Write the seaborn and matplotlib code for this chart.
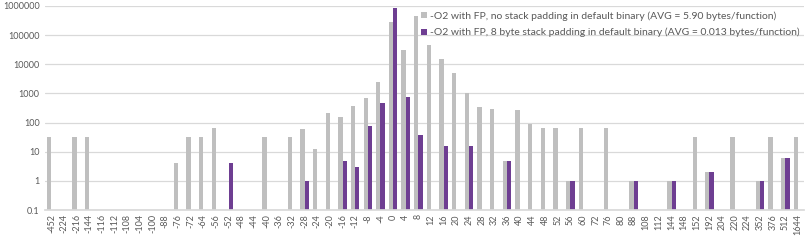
import pandas as pd
import numpy as np
import matplotlib
matplotlib.use('Agg')
import matplotlib.pyplot as plt
import seaborn as sns
from matplotlib.ticker import FixedLocator, FuncFormatter

# kategori offset padding (byte)
offsets = [-452, -224, -216, -144, -116, -112, -108, -104, -100, -88, -76, -72, -64, -56, -52,
           -48, -44, -40, -36, -32, -28, -24, -20, -16, -12, -8, -4, 0, 4, 8, 12, 16, 20, 24,
           28, 32, 36, 40, 44, 48, 52, 56, 60, 72, 76, 80, 88, 108, 112, 144, 148, 152, 192,
           204, 220, 224, 352, 376, 512, 1644]

nan = np.nan
no_padding = [32, nan, 32, 32, nan, nan, nan, nan, nan, nan, 4, 32, 32, 64, nan,
              nan, nan, 32, nan, 32, 62, 12, 210, 150, 360, 680, 2500, 276000, 32000, 466000, 46000, 15600, 4900, 1000,
              330, 295, 5, 277, 92, 64, 64, 1, 64, nan, 64, nan, 1, nan, nan, 1, nan, 32, 2,
              nan, 32, nan, 1, 32, 6, 32]
pad8 = [nan, nan, nan, nan, nan, nan, nan, nan, nan, nan, nan, nan, nan, nan, 4,
        nan, nan, nan, nan, nan, 1, nan, nan, 5, 3, 75, 460, 835000, 740, 38, nan, 16, nan, 16,
        nan, nan, 5, nan, nan, nan, nan, 1, nan, nan, nan, nan, 1, nan, nan, 1, nan, nan, 2,
        nan, nan, nan, 1, nan, 6, nan]

label_a = '-O2 with FP, no stack padding in default binary (AVG = 5.90 bytes/function)'
label_b = '-O2 with FP, 8 byte stack padding in default binary (AVG = 0.013 bytes/function)'

labels = [str(o) for o in offsets]
df = pd.concat([
    pd.DataFrame({'offset': labels, 'count': no_padding, 'series': label_a}),
    pd.DataFrame({'offset': labels, 'count': pad8, 'series': label_b}),
], ignore_index=True).dropna()

sns.set_theme(style='white')
plt.rcParams['font.family'] = ['Lato', 'DejaVu Sans']

fig = plt.figure(figsize=(8.06, 2.46), dpi=100)
ax = fig.add_axes([0.056, 0.146, 0.942, 0.83])
ax.set_yscale('log', nonpositive='clip')

sns.barplot(data=df, x='offset', y='count', hue='series', order=labels,
            hue_order=[label_a, label_b], palette=['#BFBFBF', '#7030A0'],
            width=0.68, ax=ax, errorbar=None, linewidth=0)

ax.set_ylim(0.1, 1e6)
ax.set_xlim(-0.5, len(labels) - 0.5)
ticks = [0.1, 1, 10, 100, 1000, 10000, 100000, 1000000]
ax.yaxis.set_major_locator(FixedLocator(ticks))
ax.yaxis.set_minor_locator(FixedLocator([]))
ax.yaxis.set_major_formatter(FuncFormatter(lambda v, p: '0.1' if v < 1 else str(int(round(v)))))
ax.grid(axis='y', color='#D9D9D9', linewidth=0.9)
ax.set_axisbelow(True)
for s in ['top', 'right', 'left']:
    ax.spines[s].set_visible(False)
ax.spines['bottom'].set_color('#D9D9D9')
ax.tick_params(axis='both', length=0, colors='#595959', labelsize=6.5)
ax.tick_params(axis='x', rotation=90, pad=3)
ax.tick_params(axis='y', pad=4)
ax.set_xlabel('')
ax.set_ylabel('')

ax.legend(loc='upper left', bbox_to_anchor=(0.495, 0.975), frameon=False, fontsize=7.5,
          labelcolor='#595959', handlelength=0.55, handleheight=0.55, handletextpad=0.35,
          labelspacing=0.7, borderaxespad=0, borderpad=0)

plt.savefig('out.png', dpi=100)
plt.close()
